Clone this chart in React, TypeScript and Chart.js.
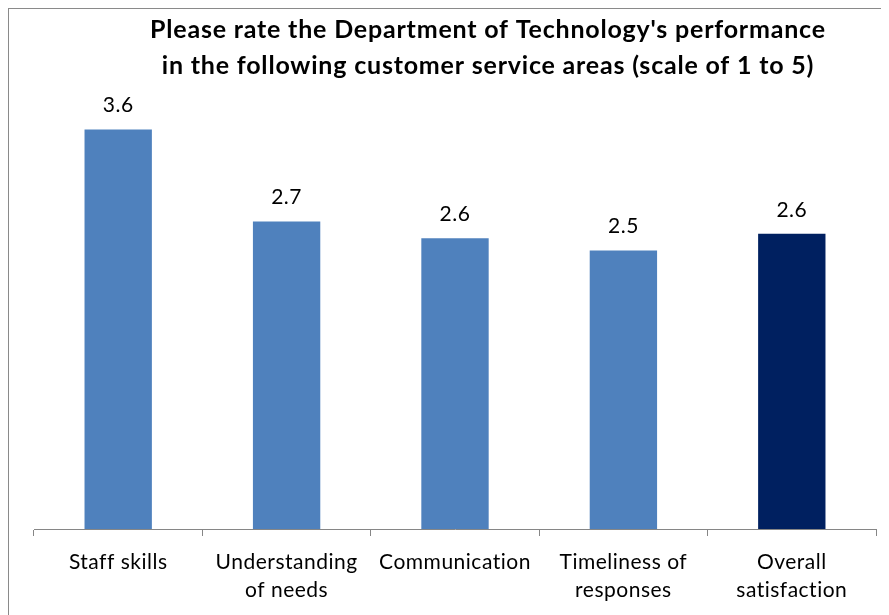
import React, { useEffect, useRef } from 'react';
import { Chart, registerables } from 'chart.js';

Chart.register(...registerables);

const categories: string[][] = [
  ['Staff skills'],
  ['Understanding', 'of needs'],
  ['Communication'],
  ['Timeliness of', 'responses'],
  ['Overall', 'satisfaction'],
];
const values: number[] = [3.6, 2.77, 2.62, 2.51, 2.66];
const valueLabels: string[] = ['3.6', '2.7', '2.6', '2.5', '2.6'];
const barColors: string[] = ['#4F81BD', '#4F81BD', '#4F81BD', '#4F81BD', '#002060'];
const titleLines: string[] = [
  "Please rate the Department of Technology's performance",
  'in the following customer service areas (scale of 1 to 5)',
];

const FONT = 'Lato, "Liberation Sans", sans-serif';

const framePlugin = {
  id: 'frame',
  beforeDraw(chart: any) {
    const { ctx, width, height } = chart;
    ctx.save();
    ctx.fillStyle = '#ffffff';
    ctx.fillRect(0, 0, width, height);
    ctx.strokeStyle = '#8a8a8a';
    ctx.lineWidth = 1;
    ctx.strokeRect(0.5, 0.5, width - 1, height - 1);
    ctx.restore();
    // slight tracking for tick labels, as in the original
    (ctx as any).letterSpacing = '0.5px';
  },
  afterDraw(chart: any) {
    const { ctx } = chart;
    ctx.save();
    ctx.fillStyle = '#000000';
    (ctx as any).letterSpacing = '0.8px';
    ctx.font = `bold 25px ${FONT}`;
    ctx.textAlign = 'center';
    ctx.textBaseline = 'middle';
    ctx.fillText(titleLines[0], 480, 22);
    ctx.fillText(titleLines[1], 480, 58);
    ctx.restore();
  },
};

const valueLabelPlugin = {
  id: 'valueLabels',
  afterDatasetsDraw(chart: any) {
    const { ctx } = chart;
    const meta = chart.getDatasetMeta(0);
    ctx.save();
    ctx.fillStyle = '#000000';
    (ctx as any).letterSpacing = '0.5px';
    ctx.font = `21px ${FONT}`;
    ctx.textAlign = 'center';
    ctx.textBaseline = 'middle';
    meta.data.forEach((bar: any, i: number) => {
      ctx.fillText(valueLabels[i], bar.x, bar.y - 24);
    });
    ctx.restore();
  },
};

export default function App() {
  const canvasRef = useRef<HTMLCanvasElement | null>(null);

  useEffect(() => {
    const canvas = canvasRef.current;
    if (!canvas) return;
    const chart = new Chart(canvas, {
      type: 'bar',
      data: {
        labels: categories as any,
        datasets: [
          {
            data: values,
            backgroundColor: barColors,
            borderWidth: 0,
            barPercentage: 0.4,
            categoryPercentage: 1,
          },
        ],
      },
      options: {
        animation: false,
        responsive: false,
        devicePixelRatio: 1,
        layout: { padding: { top: 77, left: 26, right: 92, bottom: 0 } },
        plugins: {
          legend: { display: false },
          title: { display: false },
          tooltip: { enabled: false },
        },
        scales: {
          x: {
            afterFit: (scale: any) => {
              scale.height = 99;
            },
            grid: {
              offset: true,
              drawOnChartArea: false,
              drawTicks: true,
              tickLength: 7,
              color: '#868686',
            },
            border: { display: true, color: '#868686', width: 1 },
            ticks: {
              color: '#000000',
              padding: 12,
              maxRotation: 0,
              autoSkip: false,
              font: { family: FONT, size: 21, lineHeight: 1.333 },
            },
          },
          y: {
            display: false,
            min: 0,
            max: 4,
          },
        },
      },
      plugins: [framePlugin, valueLabelPlugin],
    });
    return () => chart.destroy();
  }, []);

  return (
    <div style={{ width: 881, height: 607, overflow: 'hidden' }}>
      <canvas ref={canvasRef} width={960} height={620} style={{ display: 'block', width: 960, height: 620 }} />
    </div>
  );
}
